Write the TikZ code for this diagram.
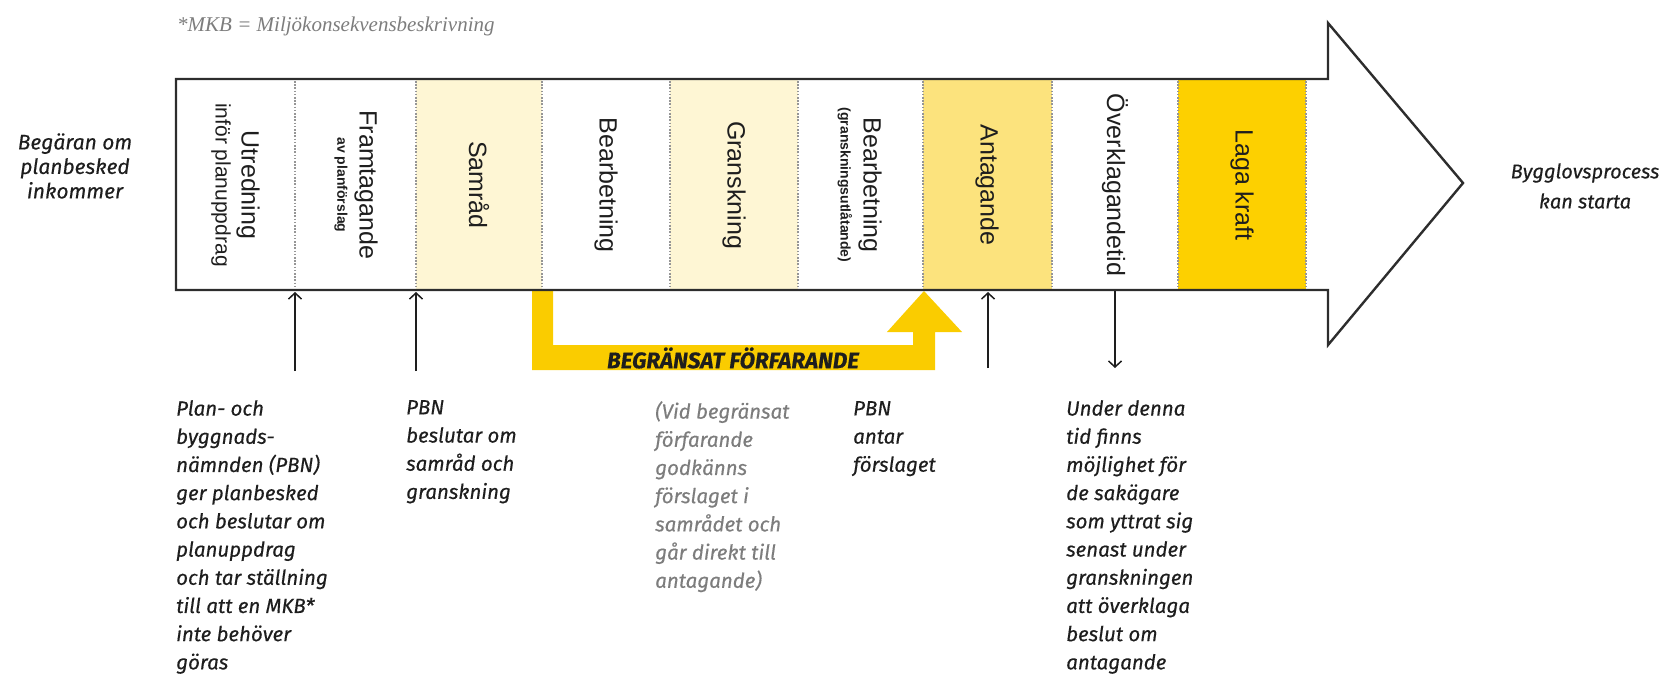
\documentclass[tikz,border=0pt]{standalone}
\usepackage{fontspec}
\setmainfont{Liberation Sans}
\newfontfamily\notefont{Fira Sans}[FakeBold=0.4]
\newfontfamily\serifnote{Liberation Serif}
\usetikzlibrary{arrows.meta}

\definecolor{cream}{RGB}{254,246,212}
\definecolor{paleyellow}{RGB}{252,227,125}
\definecolor{gold}{RGB}{253,208,0}
\definecolor{band}{RGB}{250,204,0}
\definecolor{frame}{RGB}{45,45,45}
\definecolor{divider}{RGB}{150,150,150}
\definecolor{notegray}{RGB}{125,125,125}
\definecolor{ink}{RGB}{30,30,30}

\begin{document}
\begin{tikzpicture}[x=1pt,y=-1pt,
  phase/.style={rotate=-90, font=\fontsize{25}{26}\selectfont, text=ink, inner sep=0pt},
  phasesub/.style={rotate=-90, font=\fontsize{21}{22}\selectfont, text=ink, inner sep=0pt},
  phasetiny/.style={rotate=-90, font=\bfseries\fontsize{14}{15}\selectfont, text=ink, inner sep=0pt},
  note/.style={anchor=north west, align=left, font=\notefont\itshape\fontsize{20.5}{28.2}\selectfont, text=ink, inner sep=0pt},
  pointer/.style={draw=ink, line width=1.5pt, -{Straight Barb[length=6pt,width=13pt]}},
  divline/.style={draw=divider, line width=1.3pt, dash pattern=on 1.6pt off 1.6pt},
]
\useasboundingbox (0,0) rectangle (1672,681);

% tinted phases
\fill[cream] (416,79) rectangle (542,290);
\fill[cream] (670,79) rectangle (798,290);
\fill[paleyellow] (923,79) rectangle (1052,290);
\fill[gold] (1178,79) rectangle (1306,290);

% shortcut band of the limited procedure
\fill[band] (532,290) -- (532,370) -- (935,370) -- (935,332) -- (962,332)
  -- (924,291) -- (887,332) -- (913,332) -- (913,345) -- (553,345) -- (553,290) -- cycle;

% process arrow outline
\draw[frame, line width=2.4pt, line join=miter]
  (176,79) -- (1328,79) -- (1328,23) -- (1463,183) -- (1328,345) -- (1328,290) -- (176,290) -- cycle;

% phase boundaries
\foreach \x in {295,416,542,670,798,923,1052,1178,1306}
  \draw[divline] (\x,81) -- (\x,288);

% phase labels
\node[phase] (utr) at (248,185) {Utredning};
\node[phasesub] (utrsub) at (221,185) {inför planuppdrag};
\node[phase] (fram) at (366,185) {Framtagande};
\node[phasetiny] (framsub) at (341,185) {av planförslag};
\node[phase] (samr) at (479,185) {Samråd};
\node[phase] (bearb) at (606,185) {Bearbetning};
\node[phase] (gransk) at (734,185) {Granskning};
\node[phase] (bearb2) at (870,185) {Bearbetning};
\node[phasetiny] (bearb2sub) at (845,185) {(granskningsutlåtande)};
\node[phase] (antag) at (987,185) {Antagande};
\node[phase] (overkl) at (1115,185) {Överklagandetid};
\node[phase] (laga) at (1242,185) {Laga kraft};

% pointers between decisions and the process
\coordinate (d1top) at (295,292);  \coordinate (d1bot) at (295,371);
\coordinate (d2top) at (416,292);  \coordinate (d2bot) at (416,371);
\coordinate (d3top) at (988,292);  \coordinate (d3bot) at (988,368);
\coordinate (d4top) at (1115,291); \coordinate (d4bot) at (1115,368);
\draw[pointer] (d1bot) -- (d1top);
\draw[pointer] (d2bot) -- (d2top);
\draw[pointer] (d3bot) -- (d3top);
\draw[pointer] (d4top) -- (d4bot);

% start and end texts
\node[align=center, font=\notefont\itshape\fontsize{21}{24.5}\selectfont, text=ink] (start) at (75,166)
  {Begäran om\\planbesked\\inkommer};
\node[align=center, font=\notefont\itshape\fontsize{20}{30}\selectfont, text=ink] (goal) at (1585,186)
  {Bygglovsprocess\\kan starta};

% footnote
\node[anchor=west, font=\serifnote\itshape\fontsize{21}{22}\selectfont, text=notegray, inner sep=0pt] (mkb) at (177,26)
  {*MKB = Miljökonsekvensbeskrivning};

% label on the band
\node[font=\notefont\bfseries\itshape\fontsize{22.5}{24}\selectfont, text=ink] (begr) at (733,358)
  {BEGRÄNSAT FÖRFARANDE};

% decision notes
\node[note] (n1) at (176,400) {Plan- och\\byggnads-\\nämnden (PBN)\\ger planbesked\\och beslutar om\\planuppdrag\\och tar ställning\\till att en MKB*\\inte behöver\\göras};
\node[note] (n2) at (406,400) {PBN\\beslutar om\\samråd och\\granskning};
\node[note, text=notegray] (n3) at (655,401) {(Vid begränsat\\förfarande\\godkänns\\förslaget i\\samrådet och\\går direkt till\\antagande)};
\node[note] (n4) at (853,401) {PBN\\antar\\förslaget};
\node[note] (n5) at (1066,400) {Under denna\\tid finns\\möjlighet för\\de sakägare\\som yttrat sig\\senast under\\granskningen\\att överklaga\\beslut om\\antagande};
\end{tikzpicture}
\end{document}
